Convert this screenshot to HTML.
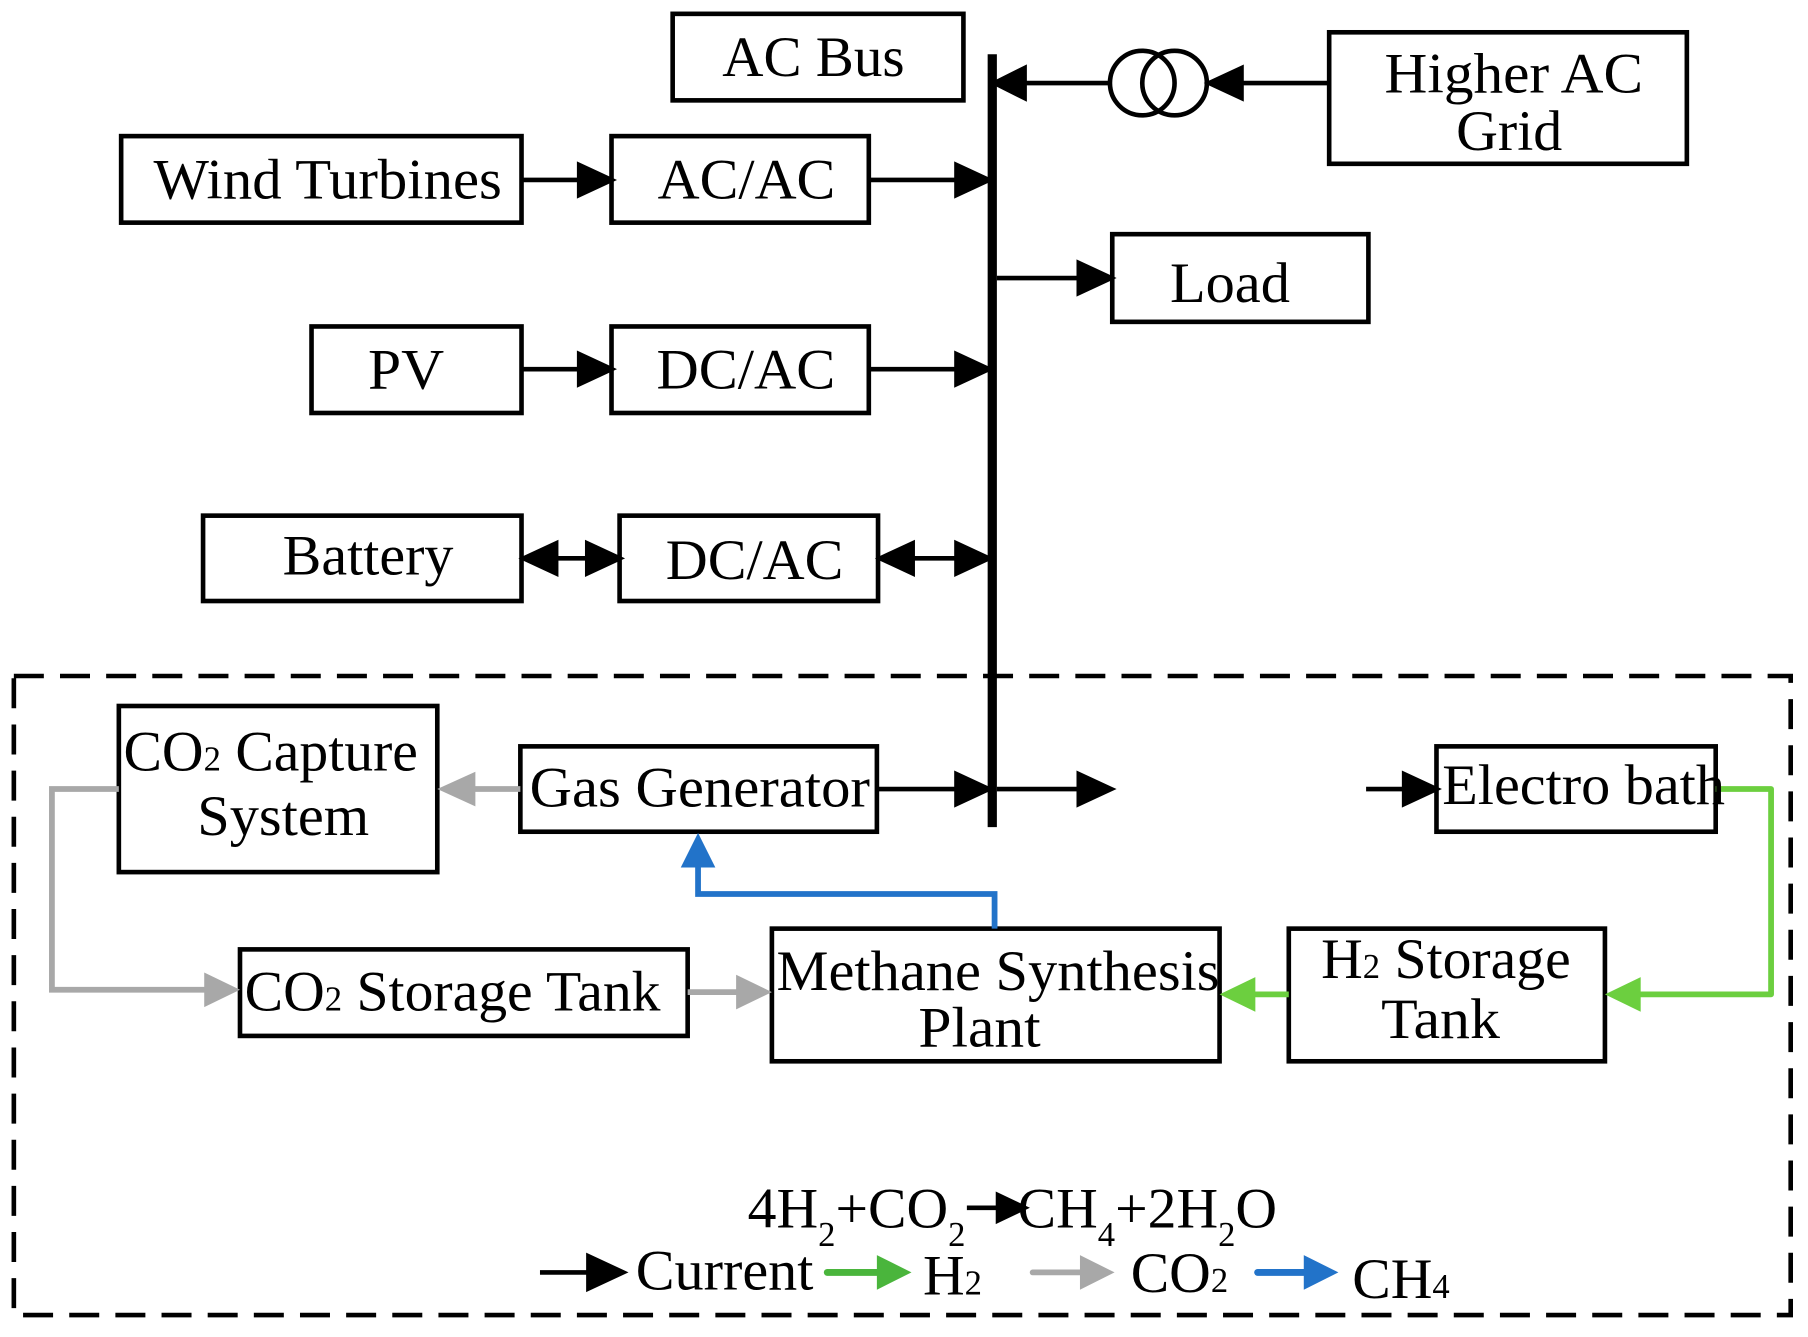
<!DOCTYPE html>
<html><head><meta charset="utf-8"><style>
html,body{margin:0;padding:0;background:#fff;}
svg{display:block;}
text{font-family:"Liberation Serif",serif;fill:#000;}
</style></head><body>
<svg width="1808" height="1337" viewBox="0 0 1567 1159" preserveAspectRatio="none" xmlns="http://www.w3.org/2000/svg">
<g fill="none" stroke="#000" stroke-width="4">
<rect x="583" y="12" width="252" height="75"/>
<rect x="1152" y="28" width="310" height="114"/>
<rect x="105" y="118" width="347" height="75"/>
<rect x="530" y="118" width="223" height="75"/>
<rect x="964" y="203" width="222" height="76"/>
<rect x="270" y="283" width="182" height="75"/>
<rect x="530" y="283" width="223" height="75"/>
<rect x="176" y="447" width="276" height="74"/>
<rect x="537" y="447" width="224" height="74"/>
<rect x="103" y="612" width="276" height="144"/>
<rect x="451" y="647" width="309" height="74"/>
<rect x="1245" y="647" width="242" height="74"/>
<rect x="669" y="805" width="388" height="115"/>
<rect x="1117" y="805" width="274" height="115"/>
<rect x="208" y="823" width="388" height="75"/>
<circle cx="990" cy="72" r="28"/>
<circle cx="1018" cy="72" r="28"/>
</g>
<rect x="12" y="586" width="1540" height="554" fill="none" stroke="#000" stroke-width="4" stroke-dasharray="26,14"/>
<line x1="860" y1="47" x2="860" y2="717" stroke="#000" stroke-width="8"/>
<g stroke="#000" stroke-width="4" fill="#000">
<line x1="962" y1="72" x2="880" y2="72"/><path d="M862,72L888,59L888,85z"/>
<line x1="1152" y1="72" x2="1070" y2="72"/><path d="M1048,72L1076,59L1076,85z"/>
<line x1="452" y1="156" x2="510" y2="156"/><path d="M530,156L502,143L502,169z"/>
<line x1="753" y1="156" x2="836" y2="156"/><path d="M857,156L829,143L829,169z"/>
<line x1="864" y1="241" x2="940" y2="241"/><path d="M963,241L935,228L935,254z"/>
<line x1="452" y1="320" x2="510" y2="320"/><path d="M530,320L502,307L502,333z"/>
<line x1="753" y1="320" x2="836" y2="320"/><path d="M857,320L829,307L829,333z"/>
<line x1="476" y1="484" x2="514" y2="484"/><path d="M454,484L482,471L482,497z"/><path d="M537,484L509,471L509,497z"/>
<line x1="784" y1="484" x2="836" y2="484"/><path d="M763,484L791,471L791,497z"/><path d="M857,484L829,471L829,497z"/>
<line x1="760" y1="684" x2="836" y2="684"/><path d="M857,684L829,671L829,697z"/>
<line x1="864" y1="684" x2="940" y2="684"/><path d="M963,684L935,671L935,697z"/>
<line x1="1184" y1="684" x2="1222" y2="684"/><path d="M1245,684L1217,671L1217,697z"/>
<line x1="468" y1="1103" x2="515" y2="1103"/><path d="M540,1103L510,1089L510,1117z"/>
<line x1="838" y1="1047" x2="865" y2="1047"/><path d="M888,1047L865,1036L865,1058z"/>
</g>
<g stroke="#6ccf3f" stroke-width="5" fill="none" stroke-linejoin="round">
<polyline points="1487,684 1535,684 1535,862 1415,862"/>
<line x1="1117" y1="862" x2="1080" y2="862"/>
</g>
<path d="M1391,862L1422,847L1422,877z" fill="#6ccf3f"/>
<path d="M1057,862L1088,847L1088,877z" fill="#6ccf3f"/>
<line x1="717" y1="1103" x2="760" y2="1103" stroke="#4ab53c" stroke-width="6" stroke-linecap="round"/>
<path d="M790,1103L760,1088L760,1118z" fill="#4ab53c"/>
<g stroke="#a8a8a8" stroke-width="5" fill="none">
<polyline points="103,684 45,684 45,858 185,858"/>
<line x1="596" y1="860" x2="645" y2="860"/>
<line x1="451" y1="684" x2="405" y2="684"/>
<line x1="895" y1="1103" x2="937" y2="1103" stroke-linecap="round"/>
</g>
<g fill="#a8a8a8">
<path d="M208,858L177,843L177,873z"/>
<path d="M669,860L638,845L638,875z"/>
<path d="M379,684L412,669L412,699z"/>
<path d="M966,1103L936,1088L936,1118z"/>
</g>
<polyline points="862,805 862,775 605,775 605,748" fill="none" stroke="#2273c9" stroke-width="5"/>
<path d="M605,722L590,752L620,752z" fill="#2273c9"/>
<line x1="1090" y1="1103" x2="1132" y2="1103" stroke="#2273c9" stroke-width="6" stroke-linecap="round"/>
<path d="M1160,1103L1130,1088L1130,1118z" fill="#2273c9"/>
<g font-size="50">
<text x="626" y="66" textLength="158" lengthAdjust="spacingAndGlyphs">AC Bus</text>
<text x="1200" y="80" textLength="224" lengthAdjust="spacingAndGlyphs">Higher AC</text>
<text x="1262" y="130" textLength="92" lengthAdjust="spacingAndGlyphs">Grid</text>
<text x="133" y="172" textLength="302" lengthAdjust="spacingAndGlyphs">Wind Turbines</text>
<text x="570" y="172" textLength="154" lengthAdjust="spacingAndGlyphs">AC/AC</text>
<text x="1014" y="262" textLength="104" lengthAdjust="spacingAndGlyphs">Load</text>
<text x="319" y="337" textLength="66" lengthAdjust="spacingAndGlyphs">PV</text>
<text x="569" y="337" textLength="155" lengthAdjust="spacingAndGlyphs">DC/AC</text>
<text x="245" y="498" textLength="148" lengthAdjust="spacingAndGlyphs">Battery</text>
<text x="577" y="502" textLength="154" lengthAdjust="spacingAndGlyphs">DC/AC</text>
<text x="107" y="668">CO<tspan font-size="30">2</tspan> Capture</text>
<text x="171" y="724" textLength="149" lengthAdjust="spacingAndGlyphs">System</text>
<text x="459" y="699" textLength="295" lengthAdjust="spacingAndGlyphs">Gas Generator</text>
<text x="1250" y="697" textLength="245" lengthAdjust="spacingAndGlyphs">Electro bath</text>
<text x="673" y="858" textLength="384" lengthAdjust="spacingAndGlyphs">Methane Synthesis</text>
<text x="796" y="907" textLength="106" lengthAdjust="spacingAndGlyphs">Plant</text>
<text x="1145" y="848">H<tspan font-size="30">2</tspan> Storage</text>
<text x="1197" y="900" textLength="103" lengthAdjust="spacingAndGlyphs">Tank</text>
<text x="212" y="876">CO<tspan font-size="30">2</tspan> Storage Tank</text>
<text x="648" y="1064">4H<tspan font-size="30" dy="16">2</tspan><tspan dy="-16">+CO</tspan><tspan font-size="30" dy="16">2</tspan></text>
<text x="882" y="1064">CH<tspan font-size="30" dy="16">4</tspan><tspan dy="-16">+2H</tspan><tspan font-size="30" dy="16">2</tspan><tspan dy="-16">O</tspan></text>
<text x="551" y="1118" textLength="154" lengthAdjust="spacingAndGlyphs">Current</text>
<text x="800" y="1122">H<tspan font-size="30">2</tspan></text>
<text x="980" y="1120">CO<tspan font-size="30">2</tspan></text>
<text x="1172" y="1125">CH<tspan font-size="30">4</tspan></text>
</g>
</svg>
</body></html>
